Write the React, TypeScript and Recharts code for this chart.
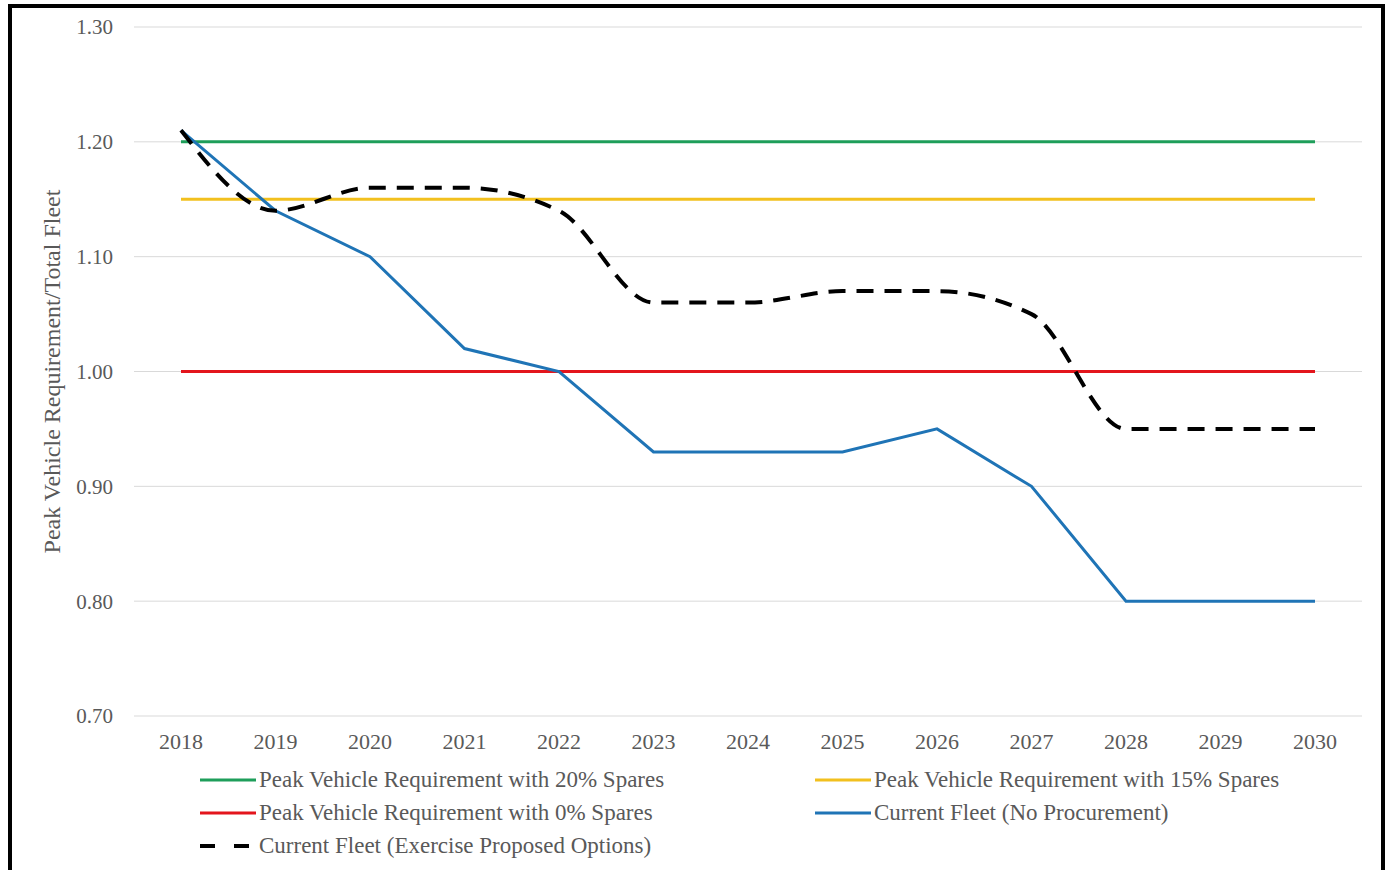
import React from "react";
import {
  LineChart,
  Line,
  XAxis,
  YAxis,
  CartesianGrid,
  Legend,
  Label,
} from "recharts";

const years = ["2018", "2019", "2020", "2021", "2022", "2023", "2024", "2025", "2026", "2027", "2028", "2029", "2030"];
const spares20 = [1.2, 1.2, 1.2, 1.2, 1.2, 1.2, 1.2, 1.2, 1.2, 1.2, 1.2, 1.2, 1.2];
const spares15 = [1.15, 1.15, 1.15, 1.15, 1.15, 1.15, 1.15, 1.15, 1.15, 1.15, 1.15, 1.15, 1.15];
const spares0 = [1.0, 1.0, 1.0, 1.0, 1.0, 1.0, 1.0, 1.0, 1.0, 1.0, 1.0, 1.0, 1.0];
const noProcurement = [1.21, 1.14, 1.1, 1.02, 1.0, 0.93, 0.93, 0.93, 0.95, 0.9, 0.8, 0.8, 0.8];
const proposedOptions = [1.21, 1.14, 1.16, 1.16, 1.14, 1.06, 1.06, 1.07, 1.07, 1.05, 0.95, 0.95, 0.95];
const yTicks = [0.7, 0.8, 0.9, 1.0, 1.1, 1.2, 1.3];

const FONT = '"Liberation Serif", "Times New Roman", serif';
const TEXT = "#595959";

const series = [
  { key: "s20", name: "Peak Vehicle Requirement with 20% Spares", color: "#1e9e5a", width: 3, dash: undefined, smooth: false },
  { key: "s15", name: "Peak Vehicle Requirement with 15% Spares", color: "#f2c01e", width: 3, dash: undefined, smooth: false },
  { key: "s0", name: "Peak Vehicle Requirement with 0% Spares", color: "#e3151c", width: 3, dash: undefined, smooth: false },
  { key: "noProc", name: "Current Fleet (No Procurement)", color: "#1f74b6", width: 3, dash: undefined, smooth: false },
  { key: "opts", name: "Current Fleet (Exercise Proposed Options)", color: "#000000", width: 4, dash: "17 11", smooth: true },
];

const data = years.map((year, i) => ({
  year,
  s20: spares20[i],
  s15: spares15[i],
  s0: spares0[i],
  noProc: noProcurement[i],
  opts: proposedOptions[i],
}));

function LegendBox({ payload }: any) {
  // keep the legend in series order (recharts sorts it by name otherwise)
  const items = series.filter((s) => (payload || []).some((p: any) => p.dataKey === s.key));
  return (
    <div
      style={{
        display: "grid",
        gridTemplateColumns: "615px 560px",
        fontFamily: FONT,
        fontSize: 23,
        color: TEXT,
      }}
    >
      {items.map((s) => (
        <div key={s.key} style={{ display: "flex", alignItems: "center", height: 33, whiteSpace: "nowrap" }}>
          <svg width={57} height={10} style={{ marginRight: 2 }}>
            <line
              x1={0}
              y1={5}
              x2={56}
              y2={5}
              stroke={s.color}
              strokeWidth={s.width}
              strokeDasharray={s.dash ? "15 19" : undefined}
            />
          </svg>
          <span>{s.name}</span>
        </div>
      ))}
    </div>
  );
}

function YLabel({ viewBox }: any) {
  const cx = viewBox.x + 52;
  const cy = viewBox.y + viewBox.height / 2;
  return (
    <text
      x={cx}
      y={cy}
      transform={`rotate(-90, ${cx}, ${cy})`}
      textAnchor="middle"
      dominantBaseline="central"
      fill={TEXT}
      fontFamily={FONT}
      fontSize={24}
    >
      Peak Vehicle Requirement/Total Fleet
    </text>
  );
}

export default function App() {
  return (
    <div style={{ position: "absolute", left: 0, top: 0, width: 1386, height: 870, overflow: "hidden", background: "#fff" }}>
      <LineChart
        width={1386}
        height={870}
        data={data}
        margin={{ top: 27, right: 24, bottom: 124, left: 0 }}
      >
        <CartesianGrid vertical={false} stroke="#d9d9d9" strokeWidth={1} />
        <XAxis
          dataKey="year"
          axisLine={false}
          tickLine={false}
          height={30}
          tickMargin={11}
          padding={{ left: 47, right: 47 }}
          tick={{ fill: TEXT, fontFamily: FONT, fontSize: 22 }}
        />
        <YAxis
          type="number"
          domain={[0.7, 1.3]}
          ticks={yTicks}
          width={134}
          axisLine={false}
          tickLine={false}
          tickMargin={15}
          tickFormatter={(v: number) => v.toFixed(2)}
          tick={{ fill: TEXT, fontFamily: FONT, fontSize: 21 }}
        >
          <Label content={<YLabel />} />
        </YAxis>
        <Legend
          layout="horizontal"
          verticalAlign="middle"
          align="center"
          content={<LegendBox />}
          wrapperStyle={{ left: 200, top: 763, width: 1180 }}
        />
        {series.map((s) => (
          <Line
            key={s.key}
            dataKey={s.key}
            name={s.name}
            type={s.smooth ? "monotone" : "linear"}
            stroke={s.color}
            strokeWidth={s.width}
            strokeDasharray={s.dash}
            dot={false}
            activeDot={false}
            isAnimationActive={false}
          />
        ))}
      </LineChart>
      <div
        style={{
          position: "absolute",
          left: 8,
          top: 4,
          width: 1377,
          height: 900,
          border: "4px solid #000",
          boxSizing: "border-box",
          pointerEvents: "none",
        }}
      />
    </div>
  );
}
